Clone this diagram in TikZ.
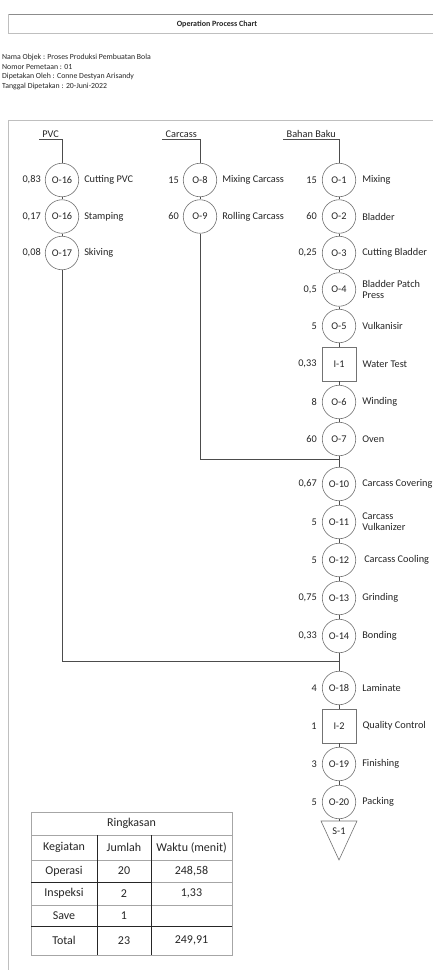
\documentclass[tikz,border=0pt]{standalone}
\usepackage{fontspec}
\setmainfont{Carlito}
\begin{document}
\begin{tikzpicture}[x=1pt,y=-1pt,
  lblfont/.style={font=\fontsize{10.3}{11}\selectfont},
  op/.style={circle,draw=black!55,line width=0.6pt,minimum size=33.5pt,inner sep=0pt,lblfont,text=black!85},
  insp/.style={rectangle,draw=black!55,line width=0.6pt,minimum size=34pt,inner sep=0pt,lblfont,text=black!85},
  num/.style={anchor=east,inner sep=1pt,lblfont,text=black!85},
  lbl/.style={anchor=west,inner sep=1pt,align=left,lblfont,text=black!85},
  hdr/.style={anchor=south east,inner xsep=3pt,inner ysep=1.5pt,lblfont,text=black!85},
  conn/.style={draw=black!70,line width=0.8pt},
  framedark/.style={draw=black!45,line width=0.9pt},
  framelight/.style={draw=black!25,line width=0.9pt},
  info/.style={anchor=west,inner sep=0pt,font=\fontsize{7.8}{9}\selectfont,text=black!85},
  tgrid/.style={draw=black!35,line width=0.6pt},
  tdark/.style={draw=black!85,line width=0.8pt},
  tcell/.style={inner sep=0pt,font=\fontsize{12}{13}\selectfont,text=black!85},
]
\useasboundingbox (0,0) rectangle (433,970);
\fill[white] (0,0) rectangle (433,970);

% frame
\draw[framedark] (8,14) -- (433,14);
\draw[framelight] (8,33) -- (433,33);
\draw[framelight] (8,120) -- (433,120);
\draw[framelight] (8,14) -- (8,33);
\draw[framelight] (8,120) -- (8,970);

\node[inner sep=0pt,font=\bfseries\fontsize{8}{9}\selectfont,text=black!85] (title) at (217,24) {Operation Process Chart};
\node[info] (i1) at (2,57) {Nama Objek : Proses Produksi Pembuatan Bola};
\node[info] (i2) at (2,67) {Nomor Pemetaan : 01};
\node[info] (i3) at (2,76.5) {Dipetakan Oleh : Conne Destyan Arisandy};
\node[info] (i4) at (2,86) {Tanggal Dipetakan : 20-Juni-2022};

% headers
\node[hdr] (hP) at (62,139) {PVC};
\node[hdr] (hC) at (200,139) {Carcass};
\node[hdr] (hB) at (339,139) {Bahan Baku};

% PVC column
\node[op] (p1) at (62,180) {O-16};
\node[op] (p2) at (62,216.5) {O-16};
\node[op] (p3) at (62,253) {O-17};
\node[num] at (p1.west) [xshift=-3pt] {0,83};
\node[num] at (p2.west) [xshift=-3pt] {0,17};
\node[num] at (p3.west) [xshift=-3pt] {0,08};
\node[lbl] at (p1.east) [xshift=4pt] {Cutting PVC};
\node[lbl] at (p2.east) [xshift=4pt] {Stamping};
\node[lbl] at (p3.east) [xshift=4pt] {Skiving};

% Carcass column
\node[op] (c1) at (200,180) {O-8};
\node[op] (c2) at (200,216.5) {O-9};
\node[num] at (c1.west) [xshift=-3pt] {15};
\node[num] at (c2.west) [xshift=-3pt] {60};
\node[lbl] at (c1.east) [xshift=4pt] {Mixing Carcass};
\node[lbl] at (c2.east) [xshift=4pt] {Rolling Carcass};

% main column
\node[op] (o1) at (339,180) {O-1};
\node[op] (o2) at (339,216.5) {O-2};
\node[op] (o3) at (339,253) {O-3};
\node[op] (o4) at (339,289.5) {O-4};
\node[op] (o5) at (339,326) {O-5};
\node[insp] (ia) at (339,364) {I-1};
\node[op] (o6) at (339,402) {O-6};
\node[op] (o7) at (339,439) {O-7};
\node[op] (o10) at (339,484) {O-10};
\node[op] (o11) at (339,522) {O-11};
\node[op] (o12) at (339,560) {O-12};
\node[op] (o13) at (339,598) {O-13};
\node[op] (o14) at (339,636) {O-14};
\node[op] (o18) at (339,688) {O-18};
\node[insp] (ib) at (339,726) {I-2};
\node[op] (o19) at (339,764) {O-19};
\node[op] (o20) at (339,802) {O-20};

\foreach \n/\v in {o1/15,o2/60,o3/{0,25},o4/{0,5},o5/5,ia/{0,33},o6/8,o7/60,o10/{0,67},o11/5,o12/5,o13/{0,75},o14/{0,33},o18/4,ib/1,o19/3,o20/5}
  \node[num] at (\n.west) [xshift=-4pt] {\v};

\node[lbl] at (o1.east) [xshift=5pt] {Mixing};
\node[lbl] at (o2.east) [xshift=5pt] {Bladder};
\node[lbl] at (o3.east) [xshift=5pt] {Cutting Bladder};
\node[lbl] at (o4.east) [xshift=5pt] {Bladder Patch\\Press};
\node[lbl] at (o5.east) [xshift=5pt] {Vulkanisir};
\node[lbl] at (ia.east) [xshift=5pt] {Water Test};
\node[lbl] at (o6.east) [xshift=5pt] {Winding};
\node[lbl] at (o7.east) [xshift=5pt] {Oven};
\node[lbl] at (o10.east) [xshift=5pt] {Carcass Covering};
\node[lbl] at (o11.east) [xshift=5pt] {Carcass\\Vulkanizer};
\node[lbl] at (o12.east) [xshift=7pt] {Carcass Cooling};
\node[lbl] at (o13.east) [xshift=5pt] {Grinding};
\node[lbl] at (o14.east) [xshift=5pt] {Bonding};
\node[lbl] at (o18.east) [xshift=5pt] {Laminate};
\node[lbl] at (ib.east) [xshift=5pt] {Quality Control};
\node[lbl] at (o19.east) [xshift=5pt] {Finishing};
\node[lbl] at (o20.east) [xshift=5pt] {Packing};

% storage triangle
\coordinate (s1) at (339,821);
\draw[draw=black!55,line width=0.6pt] (321,821) -- (357,821) -- (339,860) -- cycle;
\node[inner sep=0pt,lblfont,text=black!85] (s1t) at (339,831) {S-1};

\coordinate (j1) at (339,459);
\coordinate (j2) at (339,661);

% connectors
\draw[conn] (hP.south west) -- (hP.south east) -- (p1);
\draw[conn] (hC.south west) -- (hC.south east) -- (c1);
\draw[conn] (hB.south west) -- (hB.south east) -- (o1);
\draw[conn] (p1) -- (p2);
\draw[conn] (p2) -- (p3);
\draw[conn] (p3) |- (j2);
\draw[conn] (c1) -- (c2);
\draw[conn] (c2) |- (j1);
\draw[conn] (o1) -- (o2);
\draw[conn] (o2) -- (o3);
\draw[conn] (o3) -- (o4);
\draw[conn] (o4) -- (o5);
\draw[conn] (o5) -- (ia);
\draw[conn] (ia) -- (o6);
\draw[conn] (o6) -- (o7);
\draw[conn] (o7) -- (o10);
\draw[conn] (o10) -- (o11);
\draw[conn] (o11) -- (o12);
\draw[conn] (o12) -- (o13);
\draw[conn] (o13) -- (o14);
\draw[conn] (o14) -- (o18);
\draw[conn] (o18) -- (ib);
\draw[conn] (ib) -- (o19);
\draw[conn] (o19) -- (o20);
\draw[conn] (o20) -- (s1);

% summary table
\draw[tgrid] (31,812) rectangle (232,955);
\draw[tgrid] (31,835) -- (232,835);
\draw[tgrid] (31,860) -- (232,860);
\draw[tgrid] (151,882) -- (232,882);
\draw[tgrid] (31,905) -- (232,905);
\draw[tdark] (31,882) -- (151,882);
\draw[tdark] (31,926) -- (232,926);
\draw[tdark] (97,835) -- (97,955);
\draw[tdark] (151,835) -- (151,955);

\node[tcell] (tR) at (131.5,823.5) {Ringkasan};
\node[tcell] (tK) at (64,847.5) {Kegiatan};
\node[tcell] (tJ) at (124,847.5) {Jumlah};
\node[tcell] (tW) at (191.5,847.5) {Waktu (menit)};
\node[tcell] (tO) at (64,871) {Operasi};
\node[tcell] (tO2) at (124,871) {20};
\node[tcell] (tO3) at (191.5,871) {248,58};
\node[tcell] (tI) at (64,893.5) {Inspeksi};
\node[tcell] (tI2) at (124,893.5) {2};
\node[tcell] (tI3) at (191.5,893.5) {1,33};
\node[tcell] (tS) at (64,915.5) {Save};
\node[tcell] (tS2) at (124,915.5) {1};
\node[tcell] (tT) at (64,940.5) {Total};
\node[tcell] (tT2) at (124,940.5) {23};
\node[tcell] (tT3) at (191.5,940.5) {249,91};
\end{tikzpicture}
\end{document}
